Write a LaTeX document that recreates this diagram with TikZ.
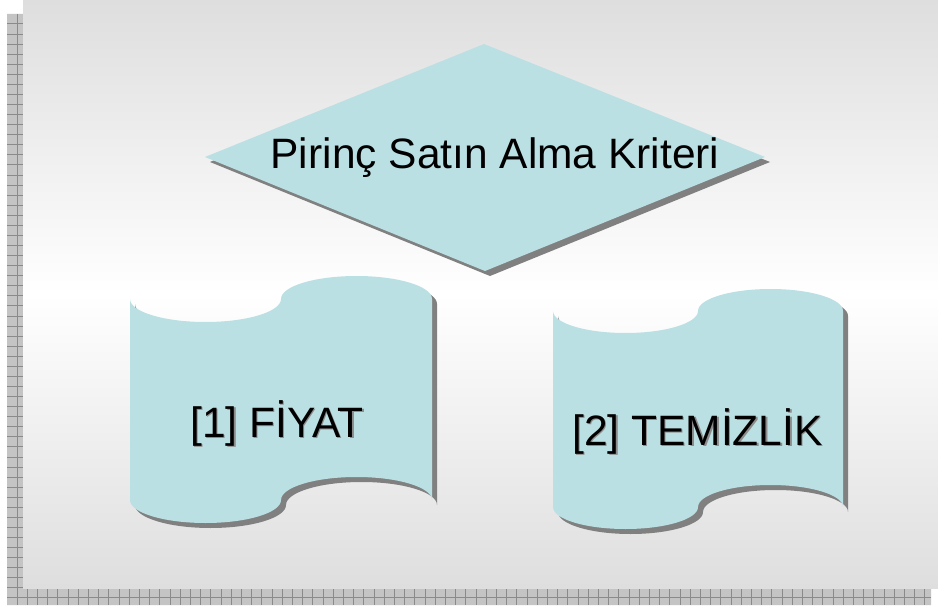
\documentclass[tikz,border=0pt]{standalone}
\usepackage{fontspec}
\setmainfont{Liberation Sans}

\definecolor{tapefill}{HTML}{BBE0E3}
\definecolor{shadowgray}{HTML}{808080}
\definecolor{stripfill}{HTML}{C4C4C4}
\definecolor{stripline}{HTML}{8A8A8A}
\definecolor{bggray}{HTML}{DEDEDE}

% punched-tape outline built from half ellipses:
% left x, top centre line y, width, height, wave amplitude, style
\newcommand{\tapeshape}[6]{%
  \pgfmathsetmacro{\qw}{#3/4}%
  \fill[#6] (#1,#2)
    arc[start angle=180, end angle=0, x radius=\qw, y radius=#5]
    arc[start angle=180, end angle=360, x radius=\qw, y radius=#5]
    -- ++(0,#4)
    arc[start angle=0, end angle=-180, x radius=\qw, y radius=#5]
    arc[start angle=0, end angle=180, x radius=\qw, y radius=#5]
    -- cycle;}

\begin{document}
\begin{tikzpicture}[x=1pt,y=-1pt,
  lbl/.style={inner sep=0pt, anchor=base, text=black, font=\fontsize{42.5}{50}\selectfont},
  lblshadow/.style={lbl, text=black!45},
  gridln/.style={draw=stripline, line width=1pt}]
\useasboundingbox (0,0) rectangle (938,610);
\fill[white] (0,0) rectangle (938,610);

% checkered frame strip along the left and bottom edges
\fill[stripfill] (7,14) -- (23,14) -- (23,588) -- (931,588) -- (931,605) -- (7,605) -- cycle;
\begin{scope}
  \clip (7,14) -- (23,14) -- (23,588) -- (931,588) -- (931,605) -- (7,605) -- cycle;
  \foreach \k in {0,...,91} {\draw[gridln] ({17+10.2*\k},14) -- ({17+10.2*\k},605);}
  \foreach \k in {0,...,57} {\draw[gridln] (7,{24+10.07*\k}) -- (931,{24+10.07*\k});}
  \draw[gridln] (23,14) -- (23,588) -- (931,588);
\end{scope}

% slide background
\shade[top color=bggray, bottom color=bggray, middle color=white] (23,0) rectangle (938,588);

% decision diamond with drop shadow
\coordinate (dtop) at (484,44);
\coordinate (dright) at (765,157);
\coordinate (dbottom) at (485,271);
\coordinate (dleft) at (205,157);
\fill[shadowgray] ([shift={(5,5)}]dtop) -- ([shift={(5,5)}]dright) -- ([shift={(5,5)}]dbottom) -- ([shift={(5,5)}]dleft) -- cycle;
\fill[tapefill] (dtop) -- (dright) -- (dbottom) -- (dleft) -- cycle;
\node[lbl] (crit) at (495,168) {Pirinç Satın Alma Kriteri};

% first punched tape
\tapeshape{135}{304}{302}{201}{23}{shadowgray}
\tapeshape{130}{299}{302}{201}{23}{tapefill}
\node[lblshadow] (fiyatsh) at (278.5,438.5) {[1] FİYAT};
\node[lbl] (fiyat) at (277,437) {[1] FİYAT};

% second punched tape
\tapeshape{558}{316}{290}{196}{22}{shadowgray}
\tapeshape{553}{311}{290}{196}{22}{tapefill}
\node[lblshadow] (temizsh) at (699,446.5) {[2] TEMİZLİK};
\node[lbl] (temiz) at (697.5,445) {[2] TEMİZLİK};
\end{tikzpicture}
\end{document}
